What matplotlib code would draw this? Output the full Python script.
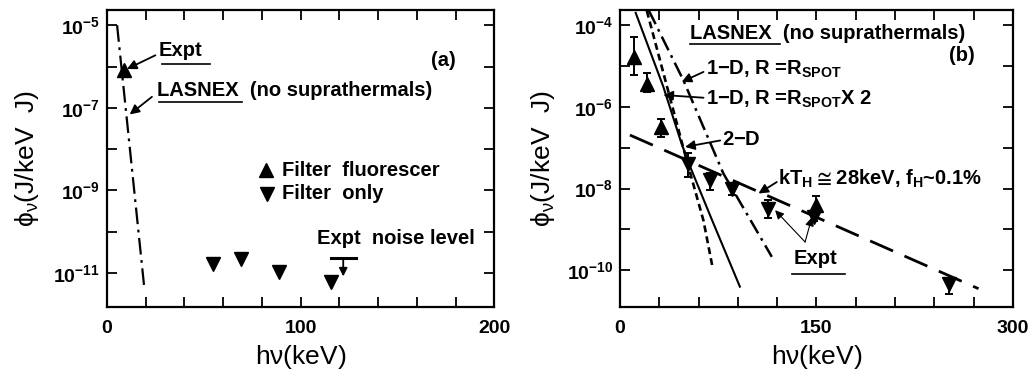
import numpy as np
import matplotlib
matplotlib.use("Agg")
import matplotlib.pyplot as plt
from matplotlib.ticker import FixedLocator, FuncFormatter

plt.rcParams['font.family'] = ['Liberation Sans', 'DejaVu Sans']
plt.rcParams['font.weight'] = 'bold'
plt.rcParams['mathtext.fontset'] = 'dejavusans'
plt.rcParams['mathtext.default'] = 'regular'
plt.rcParams['lines.scale_dashes'] = False

# ---------------- Panel (a) data ----------------
a_lasnex_x = [5.2, 19.3]
a_lasnex_logy = [-5.0, -11.38]
a_expt_x = [9.0]
a_expt_logy = [-6.09]
a_filter_x = [54.5, 69.1, 88.7, 115.5]
a_filter_logy = [-10.79, -10.65, -10.98, -11.22]
a_noise_x = [115.5, 128.6]
a_noise_logy = -10.64
a_noise_arrow_x = 122.0
a_noise_arrow_logy_end = -11.08

# ---------------- Panel (b) data ----------------
b_solid_x = [12, 33, 47, 54, 70, 91.5]
b_solid_logy = [-3.70, -5.50, -6.90, -7.50, -8.75, -10.40]
b_dash_x = [20.5, 50.9, 63.7, 70.5]
b_dash_logy = [-3.65, -7.31, -8.78, -9.90]
b_dashdot_x = [22.0, 48.4, 78.9, 115.9]
b_dashdot_logy = [-3.64, -5.35, -7.63, -9.67]
b_long_x = [7.6, 273.7]
b_long_logy = [-6.69, -10.45]

b_up_x = [10.7, 20.4, 31.3, 150.0]
b_up_logy = [-4.78, -5.43, -6.49, -8.41]
b_up_lo = [-5.22, -5.63, -6.73, -8.60]
b_up_hi = [-4.29, -5.18, -6.29, -8.19]

b_dn_x = [52.0, 68.8, 85.2, 113.3, 148.0, 250.8]
b_dn_logy = [-7.39, -7.80, -8.00, -8.49, -8.69, -10.33]
b_dn_lo = [-7.71, -8.04, -8.16, -8.71, -8.80, -10.57]
b_dn_hi = [-7.14, -7.62, -7.90, -8.29, -8.60, -10.20]

a_xticks = np.arange(0, 201, 20)
a_xlabels = [0, 100, 200]
a_ydecades = np.arange(-11, -4)
a_ylabels = [-5, -7, -9, -11]
b_xticks = np.arange(0, 301, 30)
b_xlabels = [0, 150, 300]
b_ydecades = np.arange(-10, -3)
b_ylabels = [-4, -6, -8, -10]

TICK_FS = 14
TXT_FS = 14.5
LAB_FS = 19

fig = plt.figure(figsize=(10.34, 3.76), dpi=100)
axa = fig.add_axes([0.1035, 0.1835, 0.3745, 0.7895])
axb = fig.add_axes([0.5996, 0.1835, 0.3801, 0.7895])


def style_axis(ax, xticks, xlabels, decades, ylabels, xlim, ylim, ylab_x):
    ax.set_yscale('log')
    ax.set_xlim(*xlim)
    ax.set_ylim(10.0 ** ylim[0], 10.0 ** ylim[1])
    ax.xaxis.set_major_locator(FixedLocator(xticks))
    ax.xaxis.set_major_formatter(FuncFormatter(
        lambda v, p: f"{int(round(v))}" if int(round(v)) in xlabels else ""))
    ax.yaxis.set_major_locator(FixedLocator([10.0 ** d for d in decades]))
    ax.yaxis.set_minor_locator(FixedLocator([]))

    def yfmt(v, p):
        e = int(round(np.log10(v)))
        return r"$\mathregular{10^{%d}}$" % e if e in ylabels else ""
    ax.yaxis.set_major_formatter(FuncFormatter(yfmt))
    ax.tick_params(axis='both', which='major', direction='in', top=True,
                   right=True, length=7, width=1.3, labelsize=TICK_FS)
    ax.tick_params(axis='x', pad=9)
    ax.tick_params(axis='y', pad=5)
    for s in ax.spines.values():
        s.set_linewidth(1.6)
    ax.set_xlabel("h$\\nu$(keV)", fontsize=LAB_FS, va='center')
    ax.set_ylabel("$\\phi_\\nu$(J/keV  J)", fontsize=LAB_FS, va='center')
    ax.xaxis.set_label_coords(0.5, -0.168)
    ax.yaxis.set_label_coords(ylab_x, 0.5)


style_axis(axa, a_xticks, a_xlabels, a_ydecades, a_ylabels, (0, 200),
           (-11.82, -4.636), -0.207)
style_axis(axb, b_xticks, b_xlabels, b_ydecades, b_ylabels, (0, 300),
           (-10.898, -3.633), -0.196)

p10 = lambda arr: 10.0 ** np.asarray(arr, dtype=float)
arrow_kw = dict(arrowstyle='-|>', color='k', lw=1.3, mutation_scale=14,
                shrinkA=0, shrinkB=0)

# ---------- Panel (a) ----------
axa.plot(a_lasnex_x, p10(a_lasnex_logy), color='k', lw=1.6,
         linestyle=(0, (12, 4, 2, 4)))
axa.plot(a_expt_x, p10(a_expt_logy), marker='^', ms=10, color='k', ls='none')
axa.plot(a_filter_x, p10(a_filter_logy), marker='v', ms=10, color='k', ls='none')
axa.plot(a_noise_x, p10([a_noise_logy] * 2), color='k', lw=2.2)
axa.annotate("", xy=(a_noise_arrow_x, 10.0 ** a_noise_arrow_logy_end),
             xytext=(a_noise_arrow_x, 10.0 ** (a_noise_logy - 0.05)),
             arrowprops=dict(arrowstyle='-|>', color='k', lw=1.3,
                             mutation_scale=12, shrinkA=0, shrinkB=0))

axa.annotate("", xy=(10.3, 10.0 ** -6.06), xycoords='data',
             xytext=(0.125, 0.848), textcoords='axes fraction', arrowprops=arrow_kw)
axa.annotate("", xy=(11.7, 10.0 ** -7.16), xycoords='data',
             xytext=(0.116, 0.708), textcoords='axes fraction', arrowprops=arrow_kw)

axa.text(0.132, 0.865, "Expt", transform=axa.transAxes, fontsize=TXT_FS,
         ha='left', va='center')
axa.plot([0.142, 0.267], [0.818, 0.818], transform=axa.transAxes, color='k', lw=1.2)
axa.text(0.129, 0.730, "LASNEX  (no suprathermals)", transform=axa.transAxes,
         fontsize=TXT_FS, ha='left', va='center')
axa.plot([0.133, 0.348], [0.691, 0.691], transform=axa.transAxes, color='k', lw=1.2)
axa.text(0.868, 0.831, "(a)", transform=axa.transAxes, fontsize=TXT_FS,
         ha='center', va='center')

axa.plot([0.41], [0.461], transform=axa.transAxes, marker='^', ms=10, color='k')
axa.text(0.451, 0.461, "Filter  fluorescer", transform=axa.transAxes,
         fontsize=TXT_FS, ha='left', va='center')
axa.plot([0.413], [0.382], transform=axa.transAxes, marker='v', ms=10, color='k')
axa.text(0.451, 0.382, "Filter  only", transform=axa.transAxes,
         fontsize=TXT_FS, ha='left', va='center')
axa.text(0.542, 0.230, "Expt  noise level", transform=axa.transAxes,
         fontsize=TXT_FS, ha='left', va='center')

# ---------- Panel (b) ----------
axb.plot(b_solid_x, p10(b_solid_logy), color='k', lw=1.5)
axb.plot(b_dash_x, p10(b_dash_logy), color='k', lw=1.9, linestyle=(0, (5, 3)))
axb.plot(b_dashdot_x, p10(b_dashdot_logy), color='k', lw=1.8,
         linestyle=(0, (11, 4, 2, 4)))
axb.plot(b_long_x, p10(b_long_logy), color='k', lw=2.0, linestyle=(0, (18, 9)))

up_y = p10(b_up_logy)
axb.errorbar(b_up_x, up_y, yerr=[up_y - p10(b_up_lo), p10(b_up_hi) - up_y],
             fmt='^', ms=10, color='k', ecolor='k', elinewidth=1.4, capsize=3,
             capthick=1.4)
dn_y = p10(b_dn_logy)
axb.errorbar(b_dn_x, dn_y, yerr=[dn_y - p10(b_dn_lo), p10(b_dn_hi) - dn_y],
             fmt='v', ms=10, color='k', ecolor='k', elinewidth=1.4, capsize=3,
             capthick=1.4)

axb.text(0.178, 0.921, "LASNEX  (no suprathermals)", transform=axb.transAxes,
         fontsize=TXT_FS, ha='left', va='center')
axb.plot([0.178, 0.407], [0.886, 0.886], transform=axb.transAxes, color='k', lw=1.2)
axb.text(0.870, 0.848, "(b)", transform=axb.transAxes, fontsize=TXT_FS,
         ha='center', va='center')
axb.text(0.218, 0.800, r"1$-$D, R =R$_{SPOT}$", transform=axb.transAxes,
         fontsize=TXT_FS, ha='left', va='center')
axb.text(0.218, 0.699, r"1$-$D, R =R$_{SPOT}$X 2", transform=axb.transAxes,
         fontsize=TXT_FS, ha='left', va='center')
axb.text(0.259, 0.564, r"2$-$D", transform=axb.transAxes,
         fontsize=TXT_FS, ha='left', va='center')
axb.text(0.403, 0.433, r"kT$_{H}$$\cong$28keV, f$_{H}$~0.1%",
         transform=axb.transAxes, fontsize=TXT_FS, ha='left', va='center')
axb.text(0.443, 0.163, "Expt", transform=axb.transAxes, fontsize=TXT_FS,
         ha='left', va='center')
axb.plot([0.437, 0.573], [0.112, 0.112], transform=axb.transAxes, color='k', lw=1.2)

axb.annotate("", xy=(47.1, 10.0 ** -5.39), xytext=(0.2125, 0.792),
             textcoords='axes fraction', arrowprops=arrow_kw)
axb.annotate("", xy=(33.1, 10.0 ** -5.71), xytext=(0.2125, 0.705),
             textcoords='axes fraction', arrowprops=arrow_kw)
axb.annotate("", xy=(49.7, 10.0 ** -6.98), xytext=(0.255, 0.561),
             textcoords='axes fraction', arrowprops=arrow_kw)
axb.annotate("", xy=(105.7, 10.0 ** -8.12), xytext=(0.399, 0.421),
             textcoords='axes fraction', arrowprops=arrow_kw)
thin_kw = dict(arrowstyle='-|>', color='k', lw=0.8, mutation_scale=13,
               shrinkA=0, shrinkB=0)
axb.annotate("", xy=(118.4, 10.0 ** -8.53), xytext=(0.471, 0.219),
             textcoords='axes fraction', arrowprops=thin_kw)
axb.annotate("", xy=(146.5, 10.0 ** -8.70), xytext=(0.471, 0.219),
             textcoords='axes fraction', arrowprops=thin_kw)

fig.savefig("out.png", dpi=100)
